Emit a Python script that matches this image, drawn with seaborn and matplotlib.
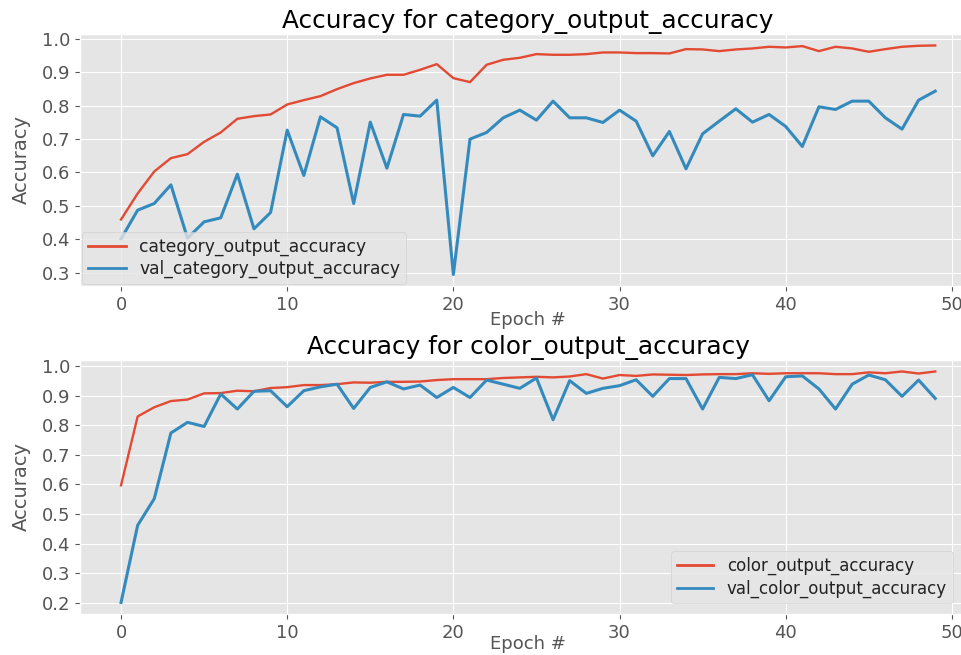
import matplotlib
matplotlib.use("Agg")
import matplotlib.pyplot as plt
import seaborn as sns
import pandas as pd
import numpy as np

epochs = list(range(50))

category_acc = [0.459, 0.537, 0.603, 0.643, 0.655, 0.692, 0.720, 0.761, 0.769, 0.774,
                0.804, 0.817, 0.829, 0.850, 0.868, 0.882, 0.893, 0.893, 0.908, 0.925,
                0.883, 0.871, 0.923, 0.938, 0.944, 0.955, 0.953, 0.953, 0.955, 0.960,
                0.960, 0.958, 0.958, 0.957, 0.970, 0.969, 0.964, 0.969, 0.972, 0.977,
                0.975, 0.979, 0.964, 0.977, 0.972, 0.962, 0.970, 0.977, 0.980, 0.981]

val_category_acc = [0.401, 0.487, 0.507, 0.563, 0.403, 0.452, 0.464, 0.595, 0.431, 0.480,
                    0.727, 0.591, 0.767, 0.734, 0.507, 0.751, 0.613, 0.774, 0.769, 0.817,
                    0.294, 0.700, 0.720, 0.764, 0.787, 0.757, 0.814, 0.764, 0.764, 0.750,
                    0.787, 0.754, 0.650, 0.723, 0.611, 0.716, 0.754, 0.791, 0.751, 0.774,
                    0.738, 0.678, 0.797, 0.789, 0.814, 0.814, 0.764, 0.730, 0.817, 0.844]

color_acc = [0.597, 0.830, 0.861, 0.882, 0.887, 0.908, 0.909, 0.917, 0.915, 0.926,
             0.929, 0.936, 0.936, 0.939, 0.945, 0.944, 0.947, 0.947, 0.948, 0.953,
             0.956, 0.956, 0.956, 0.960, 0.962, 0.964, 0.962, 0.965, 0.973, 0.958,
             0.970, 0.967, 0.972, 0.971, 0.970, 0.972, 0.973, 0.973, 0.976, 0.974,
             0.976, 0.976, 0.976, 0.973, 0.973, 0.979, 0.976, 0.982, 0.975, 0.982]

val_color_acc = [0.201, 0.462, 0.552, 0.774, 0.810, 0.796, 0.906, 0.855, 0.915, 0.917,
                 0.863, 0.917, 0.930, 0.939, 0.857, 0.928, 0.947, 0.923, 0.936, 0.894,
                 0.928, 0.894, 0.953, 0.939, 0.925, 0.960, 0.819, 0.951, 0.908, 0.925,
                 0.934, 0.954, 0.898, 0.958, 0.958, 0.855, 0.962, 0.958, 0.971, 0.883,
                 0.964, 0.967, 0.923, 0.855, 0.939, 0.970, 0.954, 0.898, 0.953, 0.891]

plt.style.use("ggplot")
plt.rcParams["font.family"] = ["DejaVu Sans"]

RED = "#E24A33"
BLUE = "#348ABD"
NARROW = ["Liberation Sans Narrow", "DejaVu Sans"]

fig = plt.figure(figsize=(9.62, 6.55), dpi=100)
ax1 = fig.add_axes([0.0835, 0.5634, 0.931, 0.3847])
ax2 = fig.add_axes([0.0835, 0.0625, 0.931, 0.3880])


def draw(ax, train, val, name_train, name_val, title):
    df = pd.DataFrame({
        "Epoch": epochs + epochs,
        "Accuracy": train + val,
        "series": [name_train] * len(epochs) + [name_val] * len(epochs),
    })
    sns.lineplot(data=df, x="Epoch", y="Accuracy", hue="series",
                 palette={name_train: RED, name_val: BLUE}, ax=ax)
    lines = ax.get_lines()
    lines[0].set_linewidth(1.7)
    lines[1].set_linewidth(2.2)
    ax.set_title(title, fontsize=17.8, color="black", pad=4)
    ax.set_xlabel("Epoch #", fontsize=13, color="#555555", labelpad=-2)
    ax.set_ylabel("Accuracy", fontsize=14, color="#555555", family=NARROW,
                  labelpad=8)
    ax.tick_params(axis="both", labelsize=13, colors="#555555")
    ax.set_xticks([0, 10, 20, 30, 40, 50])


def style_legend(leg):
    leg.set_title(None)
    for t in leg.get_texts():
        t.set_color("#222222")
    for line in leg.get_lines():
        line.set_linewidth(2.0)


draw(ax1, category_acc, val_category_acc, "category_output_accuracy",
     "val_category_output_accuracy", "Accuracy for category_output_accuracy")
draw(ax2, color_acc, val_color_acc, "color_output_accuracy",
     "val_color_output_accuracy", "Accuracy for color_output_accuracy")

leg1 = ax1.legend(loc="lower left", fontsize=12.3, frameon=True, handlelength=2.2,
                  borderaxespad=0.1, labelspacing=0.25, borderpad=0.35)
style_legend(leg1)
leg2 = ax2.legend(loc="lower right", fontsize=12.0, frameon=True, handlelength=2.2,
                  labelspacing=0.25, borderpad=0.35,
                  bbox_to_anchor=(0.999, 0.066), bbox_transform=fig.transFigure)
style_legend(leg2)

ax1.set_yticks([0.3, 0.4, 0.5, 0.6, 0.7, 0.8, 0.9, 1.0])
ax2.set_yticks([0.2, 0.3, 0.4, 0.5, 0.6, 0.7, 0.8, 0.9, 1.0])
ax2.xaxis.labelpad = -5

fig.savefig("out.png", dpi=100)
